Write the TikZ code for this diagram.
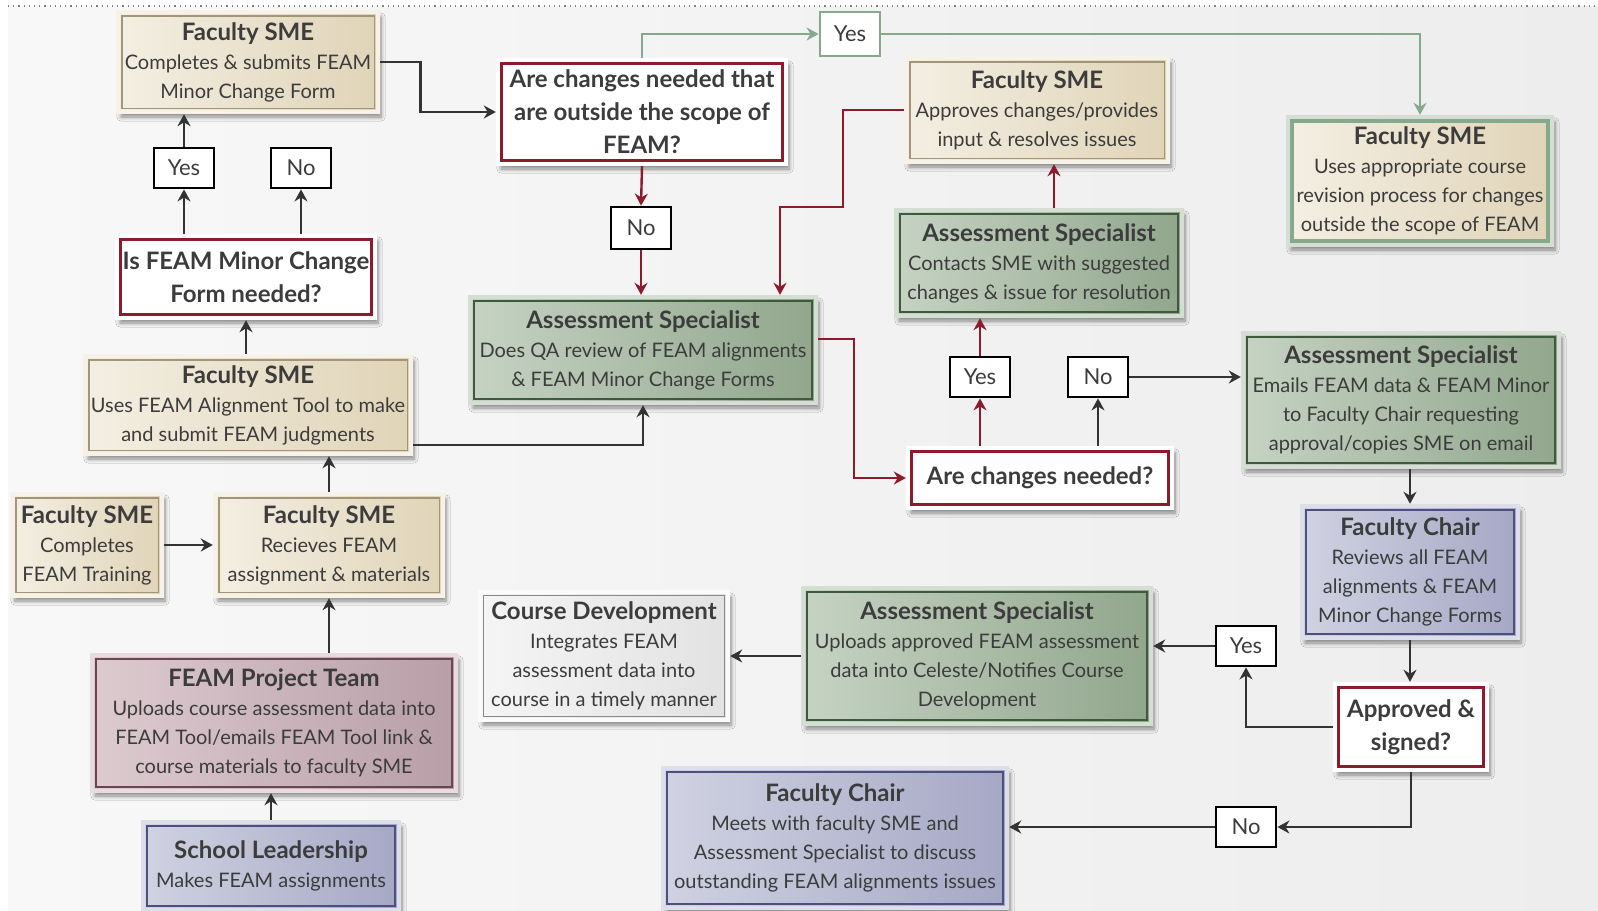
\documentclass[tikz,border=0pt]{standalone}
\usepackage{fontspec}
\setmainfont{Lato}
\usepackage{tikz}
\usetikzlibrary{arrows.meta,shadows.blur}

\definecolor{bgA}{HTML}{F8F8F8}
\definecolor{bgB}{HTML}{EDEDED}
\definecolor{txt}{HTML}{3C3C3C}
\definecolor{tanA}{HTML}{F4EFE3}
\definecolor{tanB}{HTML}{E0D4B8}
\definecolor{tanfr}{HTML}{F7F2E8}
\definecolor{tanln}{HTML}{A2957A}
\definecolor{grnA}{HTML}{C6D3C3}
\definecolor{grnB}{HTML}{91A68D}
\definecolor{grnfr}{HTML}{D5DED2}
\definecolor{grnln}{HTML}{3E593D}
\definecolor{lavA}{HTML}{D0D2E2}
\definecolor{lavB}{HTML}{A5A8C5}
\definecolor{lavfr}{HTML}{DDDEEA}
\definecolor{lavln}{HTML}{4D507E}
\definecolor{pnkA}{HTML}{DDCBD0}
\definecolor{pnkB}{HTML}{B89EA7}
\definecolor{pnkfr}{HTML}{E8DBDF}
\definecolor{pnkln}{HTML}{6D4454}
\definecolor{gryA}{HTML}{F5F5F5}
\definecolor{gryB}{HTML}{E2E2E2}
\definecolor{gryfr}{HTML}{FAFAFA}
\definecolor{gryln}{HTML}{8A8A8A}
\definecolor{qred}{HTML}{8E1B2C}
\definecolor{arc}{HTML}{333333}
\definecolor{garc}{HTML}{86A88C}

\newcommand{\hd}[1]{{\fontsize{12}{14}\selectfont\bfseries #1}}

\begin{document}
\begin{tikzpicture}[x=0.5pt, y=-0.5pt,
	inline/.style={path picture={\draw[#1] ([shift={(1.9pt,1.9pt)}]path picture bounding box.south west) rectangle ([shift={(-1.9pt,-1.9pt)}]path picture bounding box.north east);}},
	card/.style={rectangle, align=center, inner sep=2pt, line width=2.2pt, text=txt, font=\fontsize{10}{14.5}\selectfont,
		blur shadow={shadow xshift=1.5pt, shadow yshift=-2.5pt, shadow opacity=45, shadow blur steps=6}},
	tan/.style={card, draw=tanfr, left color=tanA, right color=tanB, inline={tanln, line width=0.7pt}},
	grn/.style={card, draw=grnfr, left color=grnA, right color=grnB, inline={grnln, line width=0.8pt}},
	lav/.style={card, draw=lavfr, left color=lavA, right color=lavB, inline={lavln, line width=0.8pt}},
	pnk/.style={card, draw=pnkfr, left color=pnkA, right color=pnkB, inline={pnkln, line width=0.8pt}},
	gry/.style={card, draw=gryfr, left color=gryA, right color=gryB, inline={gryln, line width=0.6pt}},
	ask/.style={card, draw=white, fill=white, inline={qred, line width=1.4pt}, font=\fontsize{12}{16.5}\selectfont\bfseries},
	tag/.style={rectangle, draw=black, line width=1.4pt, fill=white, minimum width=30pt, minimum height=20pt, inner sep=1pt, text=txt, font=\fontsize{11}{13}\selectfont},
	arr/.style={draw=arc, line width=1.4pt, -{Stealth[length=6pt,width=6.5pt]}},
	rarr/.style={arr, draw=qred, line width=1.2pt},
	garr/.style={arr, draw=garc, line width=1.2pt}]
	\useasboundingbox (0,0) rectangle (1598,910);
	\fill[white] (0,0) rectangle (1598,910);
	\shade[left color=bgA, right color=bgB] (8,6) rectangle (1598,910);
	\draw[gray, dotted, line width=0.6pt] (8,6) -- (1598,6);

	\node (fsme1) at (248,62) [tan, minimum width=130pt, minimum height=50pt] {\hd{Faculty SME}\\Completes \& submits FEAM\\Minor Change Form};
	\node (q1) at (246,277) [ask, minimum width=129pt, minimum height=41pt] {Is FEAM Minor Change\\Form needed?};
		\node (yes1) at (184,168) [tag] {Yes};
		\node (no1) at (301,168) [tag] {No};
	\node (fsme2) at (248,405) [tan, minimum width=163pt, minimum height=49pt] {\hd{Faculty SME}\\Uses FEAM Alignment Tool to make\\and submit FEAM judgments};
	\node (fsme3) at (87,545) [tan, minimum width=75pt, minimum height=51pt] {\hd{Faculty SME}\\Completes\\FEAM Training};
	\node (fsme4) at (329,545) [tan, minimum width=114pt, minimum height=51pt] {\hd{Faculty SME}\\Recieves FEAM\\assignment \& materials};
	\node (team) at (274,723) [pnk, minimum width=182pt, minimum height=68pt] {\hd{FEAM Project Team}\\Uploads course assessment data into\\FEAM Tool/emails FEAM Tool link \&\\course materials to faculty SME};
	\node (lead) at (271,866) [lav, minimum width=128pt, minimum height=44pt] {\hd{School Leadership}\\Makes FEAM assignments};

	\node (q2) at (642,112) [ask, minimum width=144pt, minimum height=52pt] {Are changes needed that\\are outside the scope of\\FEAM?};
		\node (yes2) at (850,34) [tag, draw=garc, minimum height=22pt] {Yes};
		\node (no2) at (641,228) [tag, minimum height=21pt] {No};
	\node (as1) at (643,350) [grn, minimum width=173pt, minimum height=53pt] {\hd{Assessment Specialist}\\Does QA review of FEAM alignments\\\& FEAM Minor Change Forms};
	\node (fsme5) at (1037,110) [tan, minimum width=131pt, minimum height=52pt] {\hd{Faculty SME}\\Approves changes/provides\\input \& resolves issues};
	\node (as2) at (1039,263) [grn, minimum width=143pt, minimum height=53pt] {\hd{Assessment Specialist}\\Contacts SME with suggested\\changes \& issue for resolution};
	\node (fsme6) at (1420,181) [tan, draw=grnfr, inline={garc, line width=2pt}, minimum width=132pt, minimum height=64pt] {\hd{Faculty SME}\\Uses appropriate course\\revision process for changes\\outside the scope of FEAM};
	\node (q3) at (1040,478) [ask, minimum width=132pt, minimum height=30pt] {Are changes needed?};
		\node (yes3) at (980,377) [tag] {Yes};
		\node (no3) at (1098,377) [tag] {No};
	\node (as3) at (1401,400) [grn, minimum width=158pt, minimum height=67pt] {\hd{Assessment Specialist}\\Emails FEAM data \& FEAM Minor\\to Faculty Chair requesting\\approval/copies SME on email};
	\node (fc1) at (1410,572) [lav, minimum width=108pt, minimum height=66pt] {\hd{Faculty Chair}\\Reviews all FEAM\\alignments \& FEAM\\Minor Change Forms};
	\node (q4) at (1411,727) [ask, minimum width=76pt, minimum height=43pt] {Approved \&\\signed?};
		\node (yes4) at (1246,646) [tag] {Yes};
		\node (no4) at (1246,827) [tag] {No};
	\node (as4) at (977,656) [grn, minimum width=174pt, minimum height=68pt] {\hd{Assessment Specialist}\\Uploads approved FEAM assessment\\data into Celeste/Notifies Course\\Development};
	\node (cd) at (604,656) [gry, minimum width=124pt, minimum height=64pt] {\hd{Course Development}\\Integrates FEAM\\assessment data into\\course in a timely manner};
	\node (fc2) at (835,838) [lav, minimum width=172pt, minimum height=70pt] {\hd{Faculty Chair}\\Meets with faculty SME and\\Assessment Specialist to discuss\\outstanding FEAM alignments issues};

	\draw[arr] (fsme1.east) -- ++(40,0) |- (q2.west);
	\draw[arr] (yes1 |- q1.north) -- (yes1.south);
	\draw[arr] (yes1.north) -- (yes1.north |- fsme1.south);
	\draw[arr] (no1 |- q1.north) -- (no1.south);
	\draw[arr] (q1.south |- fsme2.north) -- (q1.south);
	\draw[arr] (fsme4.north) -- (fsme4.north |- fsme2.south);
	\draw[arr] (fsme3.east) -- (fsme4.west);
	\draw[arr] (fsme4.south |- team.north) -- (fsme4.south);
	\draw[arr] (lead.north) -- (lead.north |- team.south);
	\draw[arr] ([yshift=-20pt]fsme2.east) -| (as1.south);
	\draw[garr] (q2.north) |- (yes2.west);
	\draw[garr] (yes2.east) -| (fsme6.north);
	\draw[rarr] (q2.south) -- (no2.north);
	\draw[rarr] (no2.south) -- (no2.south |- as1.north);
	\draw[rarr] (fsme5.west) -| (843,207) -| ([xshift=68.5pt]as1.north);
	\draw[rarr] ([yshift=5.5pt]as1.east) -- ++(36,0) |- (q3.west);
	\draw[rarr] (yes3 |- q3.north) -- (yes3.south);
	\draw[rarr] (yes3.north) -- (yes3.north |- as2.south);
	\draw[rarr] ([xshift=7.5pt]as2.north) -- ([xshift=7.5pt]as2.north |- fsme5.south);
	\draw[arr] (no3 |- q3.north) -- (no3.south);
	\draw[arr] (no3.east) -- (as3.west |- no3.east);
	\draw[arr] (fc1.north |- as3.south) -- (fc1.north);
	\draw[arr] (fc1.south) -- (fc1.south |- q4.north);
	\draw[arr] (q4.west) -| (yes4.south);
	\draw[arr] (yes4.west) -- (yes4.west -| as4.east);
	\draw[arr] (q4.south) |- (no4.east);
	\draw[arr] (no4.west) -- (no4.west -| fc2.east);
	\draw[arr] (as4.west) -- (cd.east);
\end{tikzpicture}
\end{document}
